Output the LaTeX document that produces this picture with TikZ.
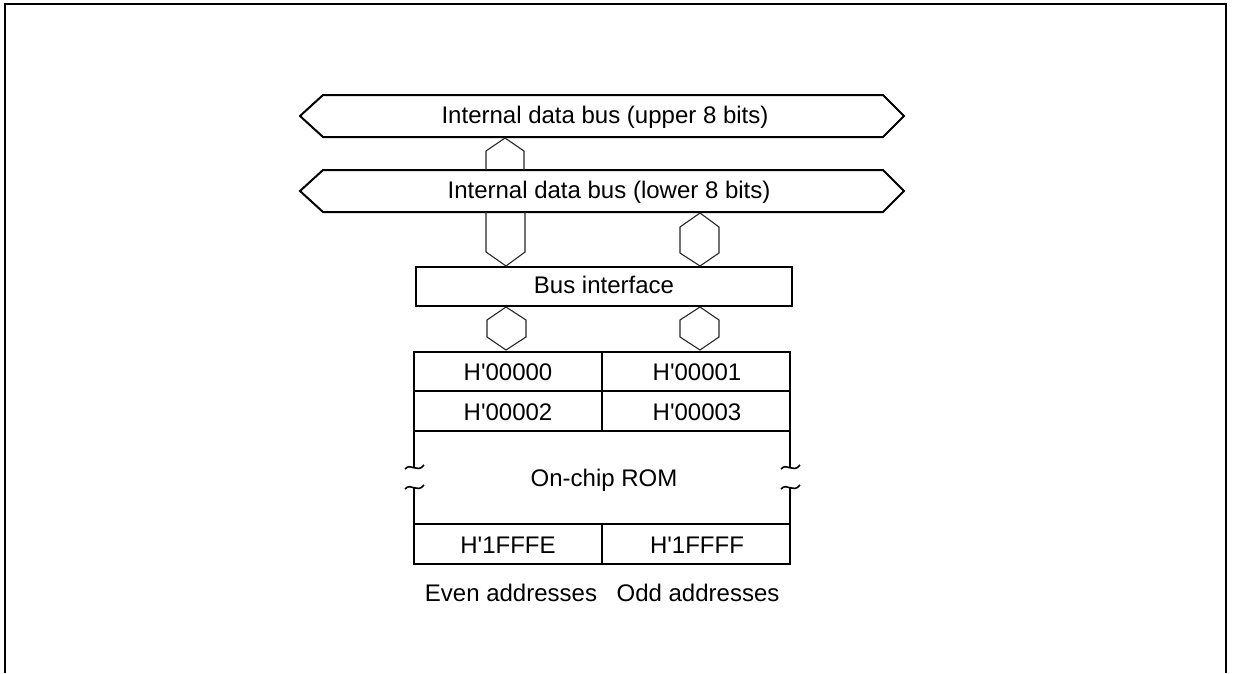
\documentclass[tikz,border=0pt]{standalone}
\usepackage{fontspec}
\setmainfont{Liberation Sans}
\newcommand{\hq}{H\textquotesingle}
\begin{document}
\begin{tikzpicture}[x=1pt,y=-1pt,
  lbl/.style={font=\fontsize{24}{28}\selectfont, inner sep=0pt, anchor=base},
  heavy/.style={line width=2pt, line join=miter},
  conn/.style={line width=1.1pt, draw=black!85, line join=miter}]
\useasboundingbox (0,0) rectangle (1234,673);
% frame
\draw[heavy] (5,673) -- (5,4) -- (1226,4) -- (1226,673);

% buses
\draw[heavy] (300,116) -- (323,95) -- (883,95) -- (904,116) -- (883,137) -- (323,137) -- cycle;
\node[lbl] (ub) at (605,123) {Internal data bus (upper 8 bits)};
\draw[heavy] (300,191) -- (323,170) -- (883,170) -- (904,191) -- (883,212) -- (323,212) -- cycle;
\node[lbl] (lb) at (609,198) {Internal data bus (lower 8 bits)};

% bus interface
\draw[heavy] (416,267) rectangle (792,306);
\node[lbl] (bi) at (604,293) {Bus interface};

% connectors
\draw[conn] (486,170) -- (486,151) -- (505,138) -- (524,151) -- (524,170);
\draw[conn] (486,212) -- (486,252) -- (506,266) -- (525,252) -- (525,212);
\draw[conn] (700,213) -- (719,227) -- (719,253) -- (700,266) -- (680,253) -- (680,227) -- cycle;
\draw[conn] (506,307) -- (526,320) -- (526,337) -- (506,350) -- (487,337) -- (487,320) -- cycle;
\draw[conn] (700,307) -- (719,320) -- (719,337) -- (700,350) -- (680,337) -- (680,320) -- cycle;

% ROM
\draw[heavy] (414,467) -- (414,352) -- (790,352) -- (790,467);
\draw[heavy] (414,487) -- (414,564) -- (790,564) -- (790,487);
\draw[heavy] (414,391) -- (790,391);
\draw[heavy] (414,431) -- (790,431);
\draw[heavy] (414,524) -- (790,524);
\draw[heavy] (602,352) -- (602,431);
\draw[heavy] (602,524) -- (602,564);
% break marks
\foreach \bx in {414,790}{
  \draw[line width=1.6pt] (\bx-9,469) .. controls (\bx-3,462) and (\bx+3,474) .. (\bx+10,465);
  \draw[line width=1.6pt] (\bx-9,489) .. controls (\bx-3,482) and (\bx+3,494) .. (\bx+10,485);
}

\node[lbl] (c0) at (508,380) {\hq 00000};
\node[lbl] (c1) at (697,380) {\hq 00001};
\node[lbl] (c2) at (508,420) {\hq 00002};
\node[lbl] (c3) at (697,420) {\hq 00003};
\node[lbl] (rom) at (604,486) {On-chip ROM};
\node[lbl] (ce) at (508,553) {\hq 1FFFE};
\node[lbl] (co) at (697,553) {\hq 1FFFF};
\node[lbl] (ev) at (511,601) {Even addresses};
\node[lbl] (od) at (698,601) {Odd addresses};
\end{tikzpicture}
\end{document}
